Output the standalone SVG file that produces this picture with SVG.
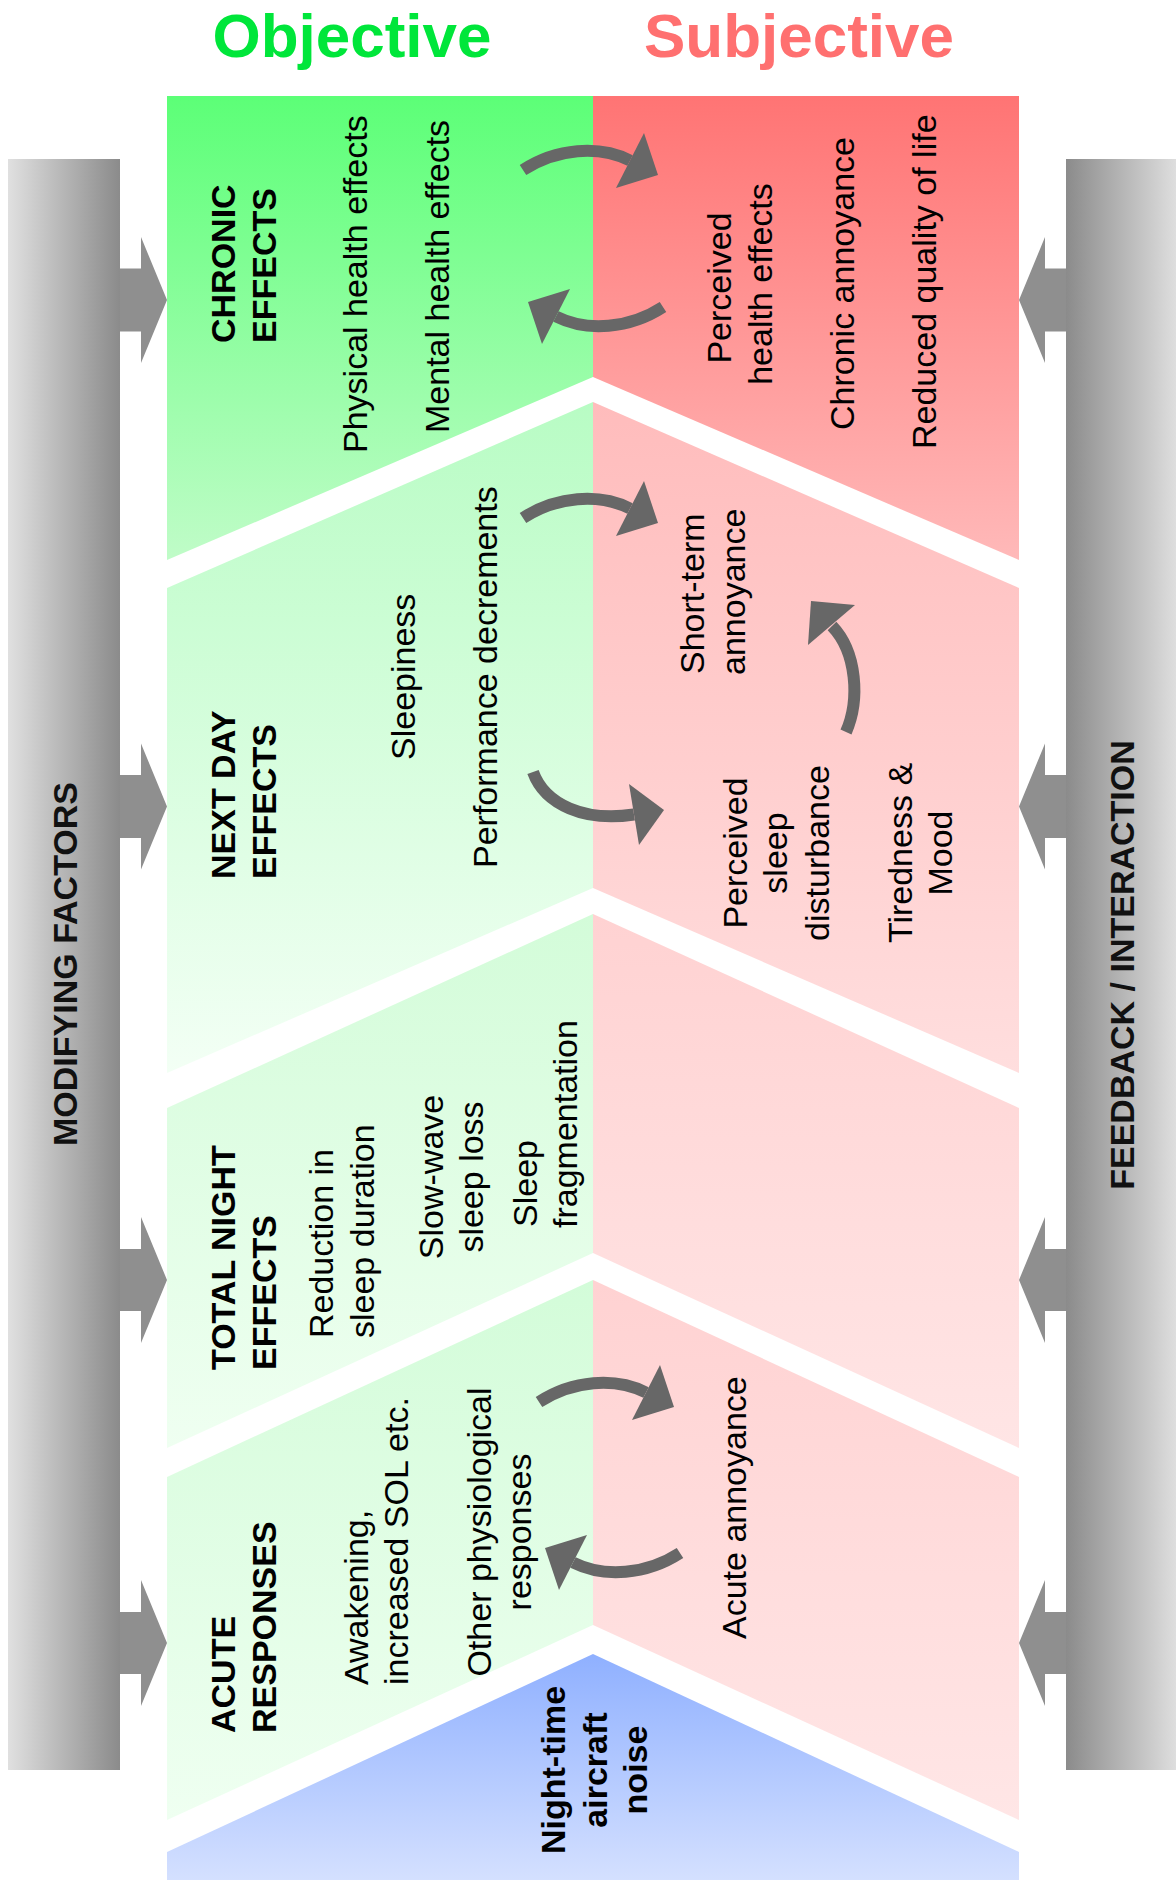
<svg xmlns="http://www.w3.org/2000/svg" width="1176" height="1883" viewBox="0 0 1176 1883">
<style>
text{font-family:"Liberation Sans",Arial,sans-serif;font-size:34px;fill:#000}
.b{font-weight:bold}
.m{text-anchor:middle}
.title{font-size:62px;font-weight:bold;text-anchor:middle}
.barlbl{font-weight:bold;text-anchor:middle;fill:#111}
.arc{fill:none;stroke:#676767;stroke-width:12}
.head{fill:#676767}
.blk{fill:#8f8f8f}
</style>
<defs>
<linearGradient id="gBarL" x1="0" y1="0" x2="1" y2="0"><stop offset="0" stop-color="#e0e0e0"/><stop offset="1" stop-color="#8b8b8b"/></linearGradient>
<linearGradient id="gBarR" x1="0" y1="0" x2="1" y2="0"><stop offset="0" stop-color="#8b8b8b"/><stop offset="1" stop-color="#dedede"/></linearGradient>
<linearGradient id="gG1" gradientUnits="userSpaceOnUse" x1="0" y1="96" x2="0" y2="560"><stop offset="0" stop-color="#5cff77"/><stop offset="1" stop-color="#c0fcc8"/></linearGradient>
<linearGradient id="gR1" gradientUnits="userSpaceOnUse" x1="0" y1="96" x2="0" y2="560"><stop offset="0" stop-color="#ff7474"/><stop offset="1" stop-color="#ffb9b9"/></linearGradient>
<linearGradient id="gG2" gradientUnits="userSpaceOnUse" x1="0" y1="402" x2="0" y2="1073"><stop offset="0" stop-color="#b8fcc4"/><stop offset="1" stop-color="#f3fff5"/></linearGradient>
<linearGradient id="gR2" gradientUnits="userSpaceOnUse" x1="0" y1="402" x2="0" y2="1073"><stop offset="0" stop-color="#ffbcbc"/><stop offset="1" stop-color="#ffdede"/></linearGradient>
<linearGradient id="gG3" gradientUnits="userSpaceOnUse" x1="0" y1="914" x2="0" y2="1448"><stop offset="0" stop-color="#d3fcd9"/><stop offset="1" stop-color="#effff1"/></linearGradient>
<linearGradient id="gR3" gradientUnits="userSpaceOnUse" x1="0" y1="914" x2="0" y2="1448"><stop offset="0" stop-color="#ffd2d2"/><stop offset="1" stop-color="#ffe5e5"/></linearGradient>
<linearGradient id="gG4" gradientUnits="userSpaceOnUse" x1="0" y1="1280" x2="0" y2="1820"><stop offset="0" stop-color="#d3fcd9"/><stop offset="1" stop-color="#effff1"/></linearGradient>
<linearGradient id="gR4" gradientUnits="userSpaceOnUse" x1="0" y1="1280" x2="0" y2="1820"><stop offset="0" stop-color="#ffd2d2"/><stop offset="1" stop-color="#ffe6e6"/></linearGradient>
<linearGradient id="gB" gradientUnits="userSpaceOnUse" x1="0" y1="1654" x2="0" y2="1880"><stop offset="0" stop-color="#8fb0ff"/><stop offset="1" stop-color="#d4e0ff"/></linearGradient>
<g id="arcArrow">
<path class="arc" d="M0,0 C33.5,-21.8 75.9,-25.1 107,-9.5"/>
<polygon class="head" points="135,5 121,-37 93,18"/>
</g>
</defs>
<rect width="1176" height="1883" fill="#fff"/>

<g id="titles">
<text class="title" x="352" y="57" style="fill:#00e63a">Objective</text>
<text class="title" x="799" y="57" style="fill:#ff7070">Subjective</text>
</g>

<g id="modifying-factors">
<rect x="8" y="159" width="112" height="1611" fill="url(#gBarL)"/>
<polygon class="blk" points="120,268.5 141,268.5 141,237 167,300 141,363 141,331.5 120,331.5"/>
<polygon class="blk" points="120,775 141,775 141,743.5 167,806.5 141,869.5 141,838 120,838"/>
<polygon class="blk" points="120,1249 141,1249 141,1217 167,1280 141,1343 141,1311 120,1311"/>
<polygon class="blk" points="120,1612 141,1612 141,1580 167,1643 141,1706 141,1674 120,1674"/>
<text class="barlbl" transform="translate(77,964) rotate(-90)">MODIFYING FACTORS</text>
</g>

<g id="feedback-interaction">
<rect x="1066" y="159" width="110" height="1611" fill="url(#gBarR)"/>
<polygon class="blk" points="1066,268.5 1045,268.5 1045,237 1019,300 1045,363 1045,331.5 1066,331.5"/>
<polygon class="blk" points="1066,775 1045,775 1045,743.5 1019,806.5 1045,869.5 1045,838 1066,838"/>
<polygon class="blk" points="1066,1249 1045,1249 1045,1217 1019,1280 1045,1343 1045,1311 1066,1311"/>
<polygon class="blk" points="1066,1612 1045,1612 1045,1580 1019,1643 1045,1706 1045,1674 1066,1674"/>
<text class="barlbl" transform="translate(1134,965) rotate(-90)">FEEDBACK / INTERACTION</text>
</g>

<g id="chronic-effects">
<polygon points="167,96 593,96 593,377 167,560" fill="url(#gG1)"/>
<polygon points="593,96 1019,96 1019,560 593,377" fill="url(#gR1)"/>
<text class="b" transform="translate(235,343) rotate(-90)">CHRONIC</text>
<text class="b" transform="translate(276,343) rotate(-90)">EFFECTS</text>
<text transform="translate(367,453) rotate(-90)">Physical health effects</text>
<text transform="translate(449,433) rotate(-90)">Mental health effects</text>
<text class="m" transform="translate(731,288) rotate(-90)">Perceived</text>
<text class="m" transform="translate(772,284) rotate(-90)">health effects</text>
<text transform="translate(854,430) rotate(-90)">Chronic annoyance</text>
<text transform="translate(936,449) rotate(-90)">Reduced quality of life</text>
</g>

<g id="next-day-effects">
<polygon points="167,588 593,402 593,888 167,1073" fill="url(#gG2)"/>
<polygon points="593,402 1019,588 1019,1073 593,888" fill="url(#gR2)"/>
<text class="b" transform="translate(235,879) rotate(-90)">NEXT DAY</text>
<text class="b" transform="translate(276,879) rotate(-90)">EFFECTS</text>
<text transform="translate(415,760) rotate(-90)">Sleepiness</text>
<text transform="translate(497,868) rotate(-90)">Performance decrements</text>
<text transform="translate(704,674) rotate(-90)">Short-term</text>
<text transform="translate(745,675) rotate(-90)">annoyance</text>
<text class="m" transform="translate(747,853) rotate(-90)">Perceived</text>
<text class="m" transform="translate(787,853) rotate(-90)">sleep</text>
<text class="m" transform="translate(829,853) rotate(-90)">disturbance</text>
<text class="m" transform="translate(912,853) rotate(-90)">Tiredness &amp;</text>
<text class="m" transform="translate(952,853) rotate(-90)">Mood</text>
</g>

<g id="total-night-effects">
<polygon points="167,1108 593,914 593,1253 167,1448" fill="url(#gG3)"/>
<polygon points="593,914 1019,1108 1019,1448 593,1253" fill="url(#gR3)"/>
<text class="b" transform="translate(235,1370) rotate(-90)">TOTAL NIGHT</text>
<text class="b" transform="translate(276,1370) rotate(-90)">EFFECTS</text>
<text transform="translate(333,1338) rotate(-90)">Reduction in</text>
<text transform="translate(374,1338) rotate(-90)">sleep duration</text>
<text class="m" transform="translate(443,1177) rotate(-90)">Slow-wave</text>
<text class="m" transform="translate(483,1177) rotate(-90)">sleep loss</text>
<text transform="translate(537,1227) rotate(-90)">Sleep</text>
<text transform="translate(577,1228) rotate(-90)">fragmentation</text>
</g>

<g id="acute-responses">
<polygon points="167,1477 593,1280 593,1625 167,1820" fill="url(#gG4)"/>
<polygon points="593,1280 1019,1477 1019,1820 593,1625" fill="url(#gR4)"/>
<text class="b" transform="translate(235,1733) rotate(-90)">ACUTE</text>
<text class="b" transform="translate(276,1733) rotate(-90)">RESPONSES</text>
<text transform="translate(368,1685) rotate(-90)">Awakening,</text>
<text transform="translate(408,1685) rotate(-90)">increased SOL etc.</text>
<text class="m" transform="translate(491,1532) rotate(-90)">Other physiological</text>
<text class="m" transform="translate(531,1532) rotate(-90)">responses</text>
<text transform="translate(746,1639) rotate(-90)">Acute annoyance</text>
</g>

<g id="night-time-aircraft-noise">
<polygon points="167,1852 593,1654 1019,1852 1019,1880 167,1880" fill="url(#gB)"/>
<text class="b m" transform="translate(565,1770) rotate(-90)">Night-time</text>
<text class="b m" transform="translate(607,1770) rotate(-90)">aircraft</text>
<text class="b m" transform="translate(647,1770) rotate(-90)">noise</text>
</g>

<g id="connectors">
<use href="#arcArrow" transform="translate(523,170)"/>
<use href="#arcArrow" transform="translate(663,307) rotate(180)"/>
<use href="#arcArrow" transform="translate(523,518)"/>
<path class="arc" d="M533,772 C545,805 585,822 634,814.5"/>
<polygon class="head" points="664,810 629,784 639,845"/>
<path class="arc" d="M846,732 C860,700 857,652 832,626"/>
<polygon class="head" points="811,601 855,605 808,645"/>
<use href="#arcArrow" transform="translate(539,1402)"/>
<use href="#arcArrow" transform="translate(680,1553) rotate(180)"/>
</g>
</svg>
